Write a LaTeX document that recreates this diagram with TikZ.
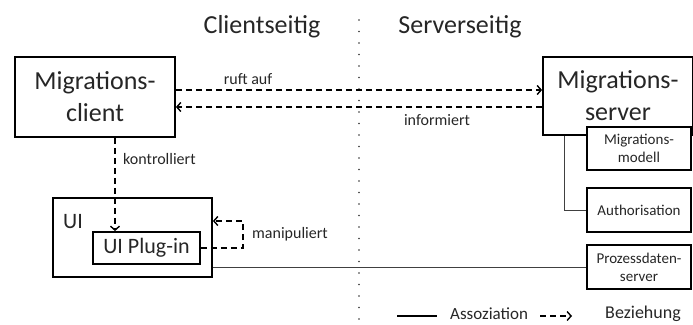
\documentclass[tikz,border=0pt]{standalone}
\usepackage{fontspec}
\setmainfont{Carlito}
\usetikzlibrary{arrows.meta}
\begin{document}
\begin{tikzpicture}[x=1pt,y=-1pt,
  txt/.style={text=black!85},
  box/.style={draw=black, line width=1.8pt, rectangle, inner sep=0pt, fill=white, txt},
  dep/.style={draw=black, line width=1.6pt, dash pattern=on 6pt off 4pt, -{Straight Barb[length=4pt,width=9pt,line width=1.4pt]}},
  assoc/.style={draw=black!75, line width=1pt},
  big/.style={font=\fontsize{26}{32}\selectfont, align=center},
  mid/.style={font=\fontsize{22}{26}\selectfont},
  sml/.style={font=\fontsize{15}{18}\selectfont, align=center},
  lbl/.style={txt, font=\fontsize{16}{18}\selectfont, inner sep=0pt},
]
\useasboundingbox (0,0) rectangle (693,324);
% divider
\draw[line width=1.6pt, dash pattern=on 0pt off 11.5pt, line cap=round, black!80] (359,20) -- (359,324);
% titles
\node[txt, big, inner sep=0pt] (tc) at (262,27) {Clientseitig};
\node[txt, big, inner sep=0pt] (ts) at (460,27) {Serverseitig};
% boxes
\node[box, big, minimum width=160pt, minimum height=80pt] (client) at (95,97) {Migrations-\\client};
\node[box, big, minimum width=150pt, minimum height=78pt] (server) at (618,96) {Migrations-\\server};
\node[box, sml, minimum width=104pt, minimum height=43pt] (modell) at (639,148.5) {Migrations-\\modell};
\node[box, sml, minimum width=104pt, minimum height=44pt] (auth) at (639,210) {Authorisation};
\node[box, sml, minimum width=104pt, minimum height=44pt] (proz) at (639,267) {Prozessdaten-\\server};
\node[box, minimum width=159pt, minimum height=79pt] (ui) at (132.5,237.5) {};
\node[txt, mid, inner sep=0pt] (uilbl) at (73,222) {UI};
\node[box, mid, minimum width=107pt, minimum height=32pt] (plugin) at (146.5,248) {UI Plug-in};
% associations
\draw[assoc] ([xshift=-54pt]server.south) |- (auth.west);
\draw[assoc] (ui.east |- proz.west) -- (proz.west);
% dependencies
\draw[dep] ([yshift=7pt]client.east) -- ([yshift=7pt]client.east -| server.west);
\draw[dep] ([yshift=-11pt]server.west) -- ([yshift=-11pt]server.west -| client.east);
\draw[dep] ([xshift=20pt]client.south) -- ([xshift=20pt]client.south |- plugin.north);
\draw[dep] (plugin.east) -- ++(42,0) |- ([yshift=16.5pt]ui.east);
% labels
\node[lbl] (l1) at (248,79) {ruft auf};
\node[lbl] (l2) at (437,120) {informiert};
\node[lbl, anchor=west] (l3) at (123,159) {kontrolliert};
\node[lbl, anchor=west] (l4) at (252,234) {manipuliert};
% legend
\coordinate (la1) at (397,316);
\coordinate (la2) at (437,316);
\draw[line width=1.6pt, black] (la1) -- (la2);
\node[lbl, font=\fontsize{17}{18}\selectfont, anchor=west] (lt1) at (450,314) {Assoziation};
\coordinate (lb1) at (540,316);
\coordinate (lb2) at (572,316);
\draw[dep] (lb1) -- (lb2);
\node[lbl, font=\fontsize{18}{18}\selectfont, anchor=west] (lt2) at (605,314) {Beziehung};
\end{tikzpicture}
\end{document}
